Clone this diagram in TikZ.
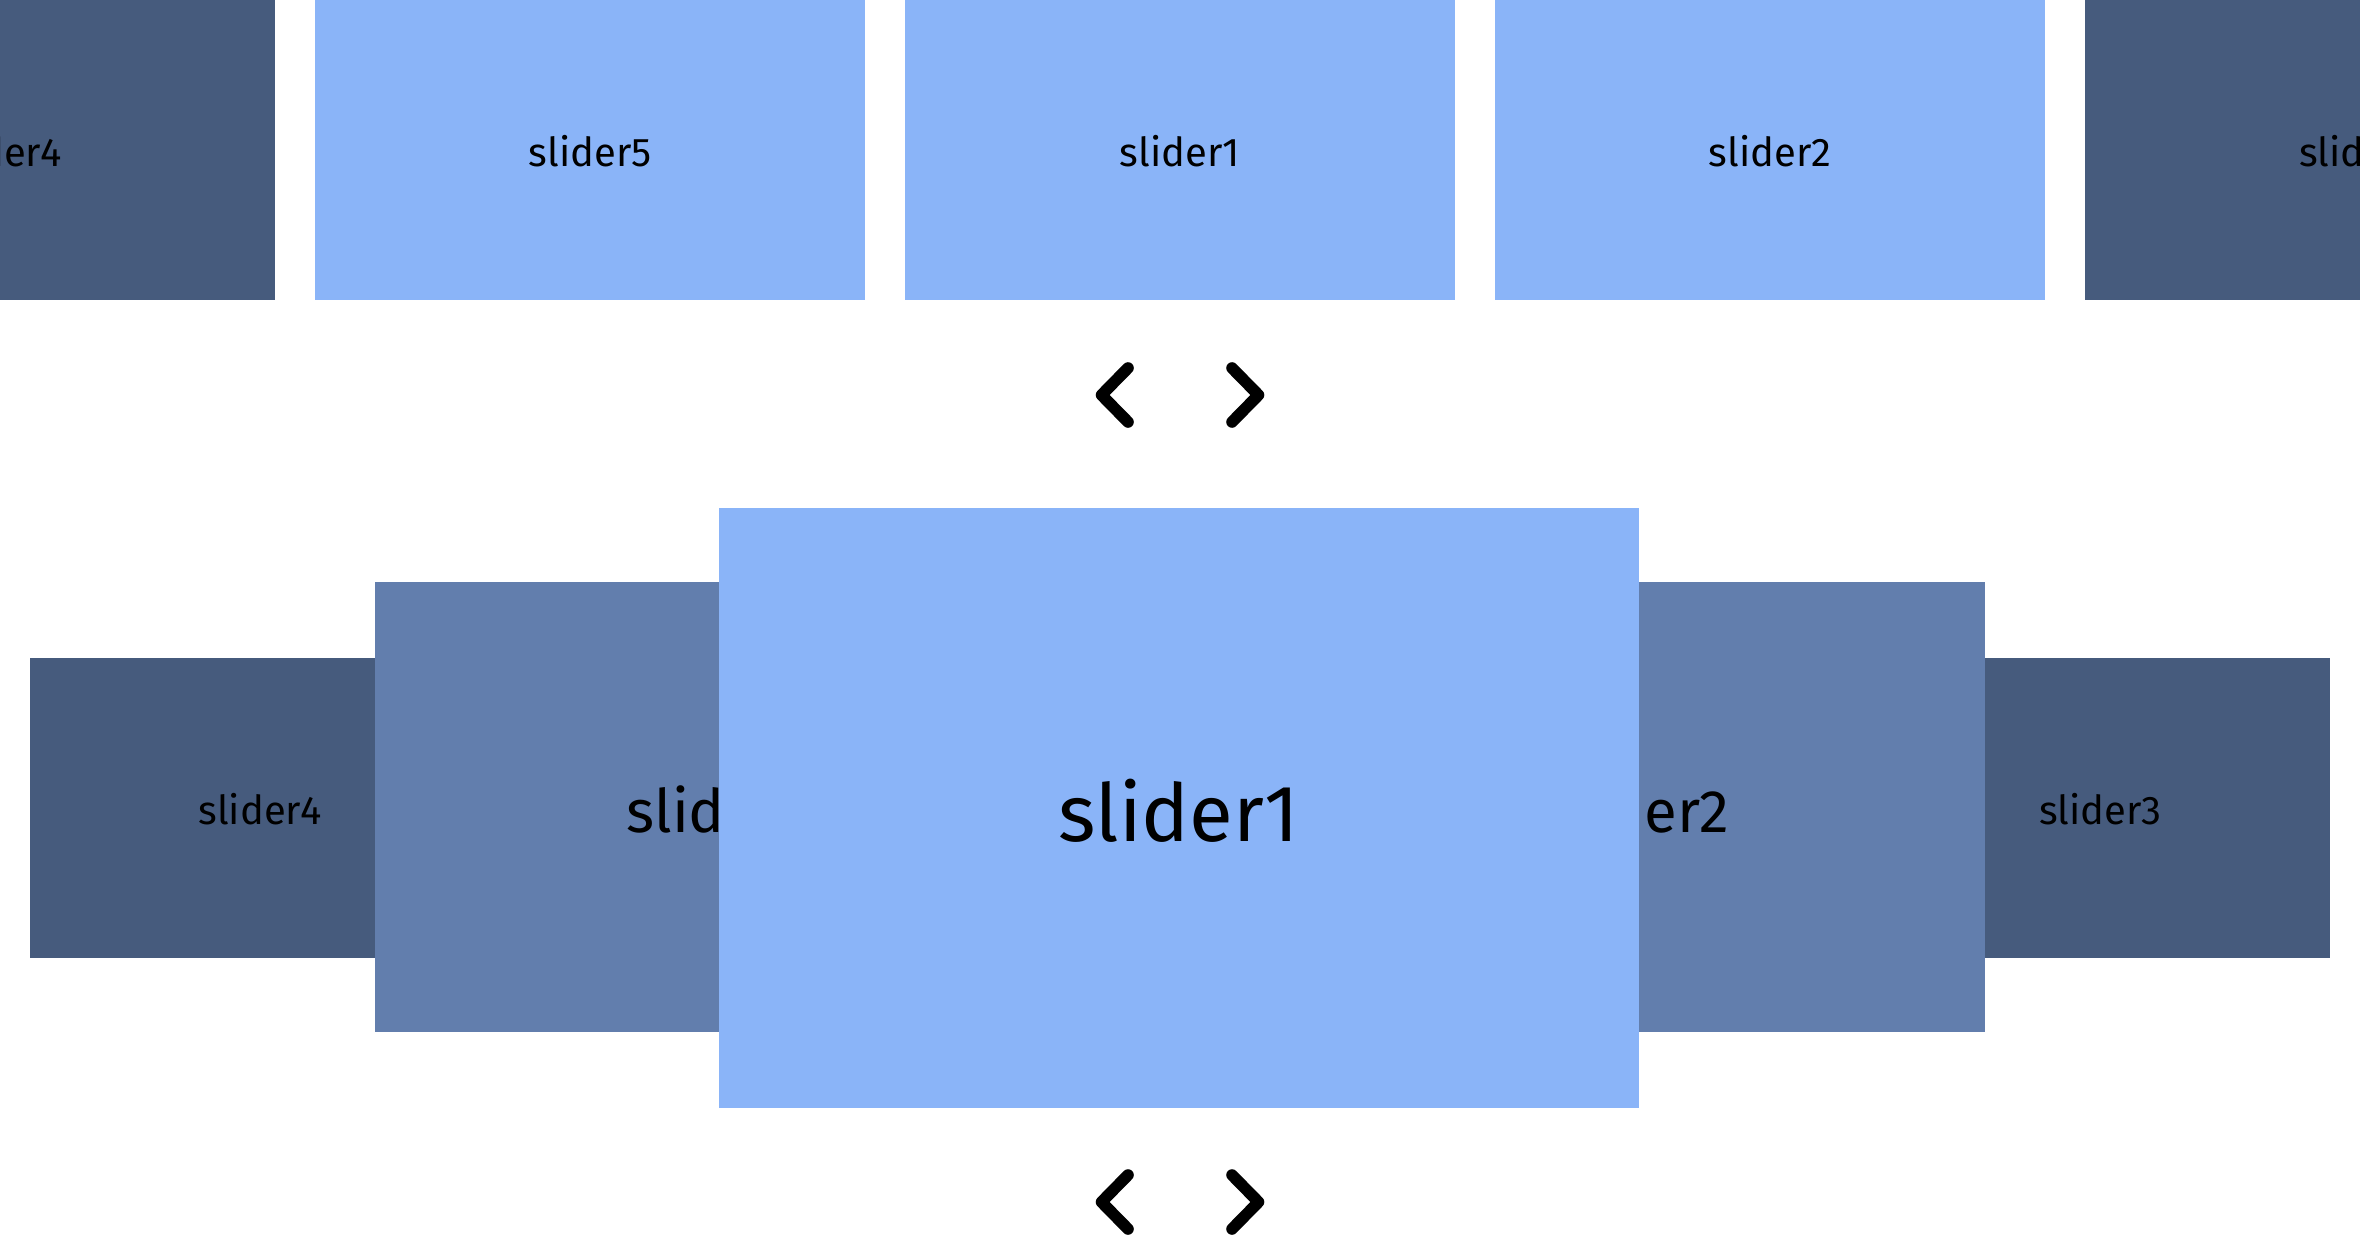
\documentclass[tikz,border=0pt]{standalone}
\usepackage{fontspec}
\setmainfont{Fira Sans}
\definecolor{lightblue}{HTML}{8AB4F8}
\definecolor{midblue}{HTML}{627EAD}
\definecolor{darkblue}{HTML}{465B7D}
\tikzset{
  slide/.style={inner sep=0pt, outer sep=0pt, draw=none},
  topbox/.style={slide, minimum width=275pt, minimum height=150pt},
  farbox/.style={slide, fill=darkblue, minimum width=230pt, minimum height=150pt},
  midbox/.style={slide, fill=midblue, minimum width=345pt, minimum height=225pt},
  cenbox/.style={slide, fill=lightblue, minimum width=460pt, minimum height=300pt},
  lblS/.style={inner sep=0pt, anchor=base, text=black, font=\fontsize{20pt}{24pt}\selectfont},
  lblM/.style={inner sep=0pt, anchor=base, text=black, font=\fontsize{30pt}{36pt}\selectfont},
  lblL/.style={inner sep=0pt, anchor=base, text=black, font=\fontsize{40pt}{48pt}\selectfont},
  chev/.style={draw=black, line width=5.8pt, line cap=round, line join=round}
}
\begin{document}
\begin{tikzpicture}[x=0.5pt, y=-0.5pt]
\useasboundingbox (0,0) rectangle (2360,1236);
\clip (0,0) rectangle (2360,1236);
\fill[white] (0,0) rectangle (2360,1236);
% top row
\node[topbox, fill=darkblue] (s4) at (0,150) {};
\node[topbox, fill=lightblue] (s5) at (590,150) {};
\node[topbox, fill=lightblue] (s1) at (1180,150) {};
\node[topbox, fill=lightblue] (s2) at (1770,150) {};
\node[topbox, fill=darkblue] (s3) at (2360,150) {};
\node[lblS] (t4) at (0,166) {slider4};
\node[lblS] (t5) at (590,166) {slider5};
\node[lblS] (t1) at (1180,166) {slider1};
\node[lblS] (t2) at (1770,166) {slider2};
\node[lblS] (t3) at (2360,166) {slider3};
% top arrows
\coordinate (la1) at (1128,368);
\coordinate (lat) at (1101.5,395);
\coordinate (la2) at (1128,422);
\coordinate (ra1) at (1232,368);
\coordinate (rat) at (1258.5,395);
\coordinate (ra2) at (1232,422);
\draw[chev] (la1) -- (lat) -- (la2);
\draw[chev] (ra1) -- (rat) -- (ra2);
% coverflow
\node[farbox] (f4) at (260,808) {};
\node[lblS] (ft4) at (260,824) {slider4};
\node[farbox] (f3) at (2100,808) {};
\node[lblS] (ft3) at (2100,824) {slider3};
\node[midbox] (m5) at (720,807) {};
\node[lblM, anchor=base west] (mt5) at (626,832) {slider5};
\node[midbox] (m2) at (1640,807) {};
\node[lblM, anchor=base east] (mt2) at (1730,832) {slider2};
\node[cenbox] (c1) at (1179,808) {};
\node[lblL] (ct1) at (1179,841) {slider1};
% bottom arrows
\coordinate (lb1) at (1128,1175);
\coordinate (lbt) at (1101.5,1202);
\coordinate (lb2) at (1128,1229);
\coordinate (rb1) at (1232,1175);
\coordinate (rbt) at (1258.5,1202);
\coordinate (rb2) at (1232,1229);
\draw[chev] (lb1) -- (lbt) -- (lb2);
\draw[chev] (rb1) -- (rbt) -- (rb2);
\end{tikzpicture}
\end{document}
